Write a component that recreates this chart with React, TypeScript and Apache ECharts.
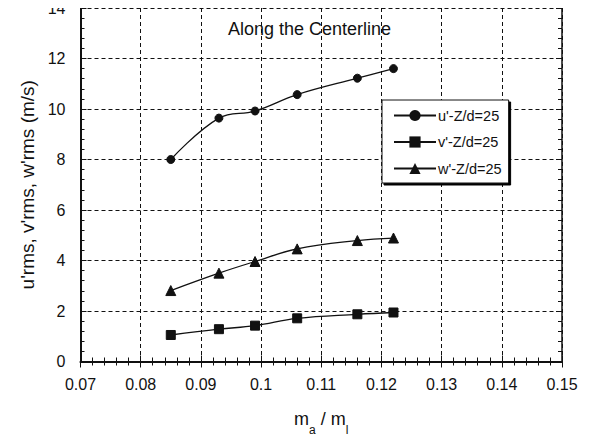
import React, { useEffect, useRef } from "react";
import * as echarts from "echarts";

const massRatio = [0.085, 0.093, 0.099, 0.106, 0.116, 0.122];
const uRms = [8.0, 9.64, 9.92, 10.57, 11.22, 11.6];
const vRms = [1.05, 1.28, 1.42, 1.71, 1.87, 1.94];
const wRms = [2.81, 3.5, 3.96, 4.46, 4.79, 4.89];
const seriesNames = ["u'-Z/d=25", "v'-Z/d=25", "w'-Z/d=25"];
const seriesSymbols = ["circle", "rect", "triangle"];
const seriesSymbolSizes = [8, 9, 10];
const chartTitle = "Along the Centerline";
const yAxisTitle = "u'rms, v'rms, w'rms (m/s)";

const FONT = "'Liberation Sans', Arial, sans-serif";
const INK = "#111";

function pairs(xs: number[], ys: number[]) {
  return xs.map((x, i) => [x, ys[i]]);
}

export default function App() {
  const ref = useRef<HTMLDivElement>(null);
  useEffect(() => {
    if (!ref.current) return;
    const chart = echarts.init(ref.current, null, { renderer: "svg" });
    const values = [uRms, vRms, wRms];
    const secondaryAxisCommon = {
      axisLine: { show: true, lineStyle: { color: INK, width: 1.5 } },
      axisTick: { show: true, inside: true, length: 6, lineStyle: { color: INK, width: 1 } },
      minorTick: { show: true, splitNumber: 5, length: 4, lineStyle: { color: INK, width: 1 } },
      axisLabel: { show: false },
      splitLine: { show: false },
    };
    chart.setOption({
      animation: false,
      backgroundColor: "#fff",
      title: {
        text: chartTitle,
        left: 223,
        top: 15,
        textStyle: { fontFamily: FONT, fontSize: 18, fontWeight: "normal", color: INK },
      },
      grid: { left: 80.5, right: 31, top: 8, bottom: 80.5, containLabel: false, outerBoundsMode: "none" },
      legend: {
        orient: "vertical",
        left: 382,
        top: 100,
        data: seriesNames,
        itemWidth: 42,
        itemHeight: 14,
        itemGap: 11.5,
        padding: [8, 7, 7, 11],
        borderColor: INK,
        borderWidth: 1,
        backgroundColor: "#fff",
        shadowColor: "#000",
        shadowBlur: 0,
        shadowOffsetX: 2,
        shadowOffsetY: 2,
        textStyle: { fontFamily: FONT, fontSize: 14.5, color: INK, padding: [0, 0, 0, -3] },
      },
      xAxis: [
        {
          type: "value",
          min: 0.07,
          max: 0.15,
          interval: 0.01,
          name: "{a|m}{s|a}{a| / m}{s|l}",
          nameLocation: "middle",
          nameGap: 48,
          nameTextStyle: {
            fontFamily: FONT,
            color: INK,
            rich: {
              a: { fontFamily: FONT, fontSize: 18, color: INK, verticalAlign: "top", lineHeight: 18 },
              s: { fontFamily: FONT, fontSize: 12, color: INK, verticalAlign: "bottom", lineHeight: 26 },
            },
          },
          axisLine: { show: true, lineStyle: { color: INK, width: 2 } },
          axisTick: { show: true, inside: true, length: 6, lineStyle: { color: INK, width: 1 } },
          minorTick: { show: true, splitNumber: 5, length: 4, lineStyle: { color: INK, width: 1 } },
          axisLabel: {
            margin: 15,
            fontFamily: FONT,
            fontSize: 16,
            color: INK,
            formatter: (v: number) => String(+v.toFixed(2)),
          },
          splitLine: { show: true, lineStyle: { color: INK, width: 1, type: [4, 3] } },
        },
        { type: "value", position: "top", min: 0.07, max: 0.15, interval: 0.01, ...secondaryAxisCommon },
      ],
      yAxis: [
        {
          type: "value",
          min: 0,
          max: 14,
          interval: 2,
          name: yAxisTitle,
          nameLocation: "middle",
          nameGap: 44,
          nameTextStyle: { fontFamily: FONT, fontSize: 19, color: INK },
          axisLine: { show: true, lineStyle: { color: INK, width: 2 } },
          axisTick: { show: true, inside: true, length: 6, lineStyle: { color: INK, width: 1 } },
          minorTick: { show: true, splitNumber: 5, length: 4, lineStyle: { color: INK, width: 1 } },
          axisLabel: { margin: 15, fontFamily: FONT, fontSize: 16, color: INK, padding: [4, 0, 0, 0] },
          splitLine: { show: true, lineStyle: { color: INK, width: 1, type: [4, 3] } },
        },
        { type: "value", position: "right", min: 0, max: 14, interval: 2, ...secondaryAxisCommon },
      ],
      series: seriesNames.map((name, i) => ({
        name,
        type: "line",
        xAxisIndex: 0,
        yAxisIndex: 0,
        data: pairs(massRatio, values[i]),
        smooth: 0.4,
        symbol: seriesSymbols[i],
        symbolSize: seriesSymbolSizes[i],
        showSymbol: true,
        lineStyle: { color: INK, width: 1.3 },
        itemStyle: { color: INK, borderColor: INK },
        z: 5,
      })),
    });
    return () => chart.dispose();
  }, []);
  return <div ref={ref} style={{ width: 593, height: 442, marginLeft: -8, marginTop: -8 }} />;
}
